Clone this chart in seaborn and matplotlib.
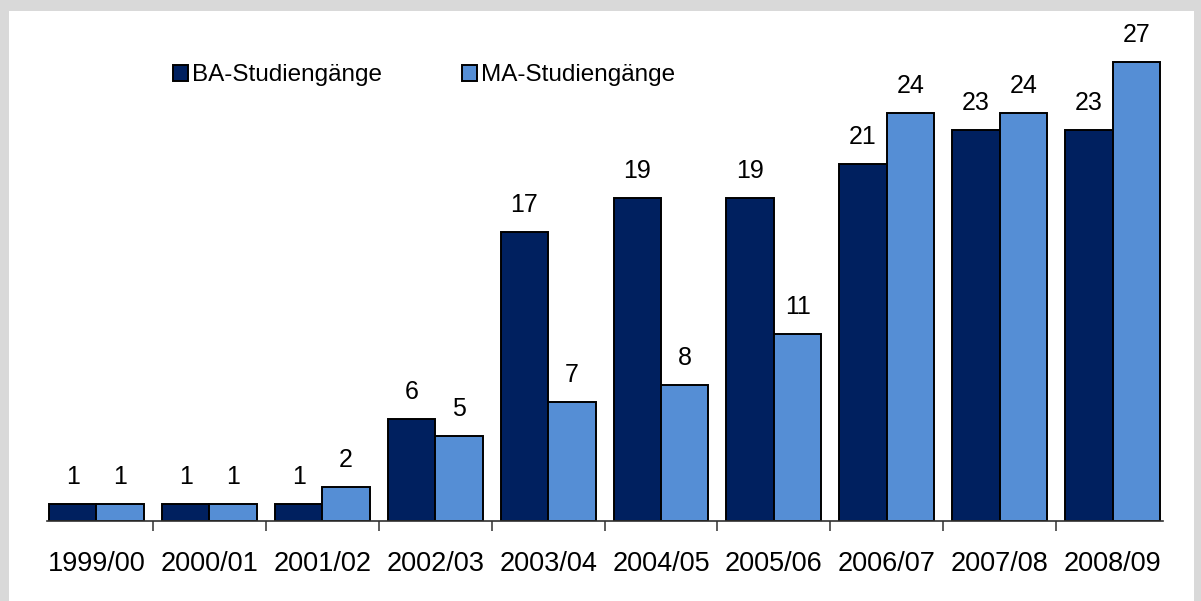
import matplotlib
matplotlib.use("Agg")
import matplotlib.pyplot as plt
import matplotlib.patches as mpatches
import seaborn as sns
import pandas as pd

years = ["1999/00", "2000/01", "2001/02", "2002/03", "2003/04",
         "2004/05", "2005/06", "2006/07", "2007/08", "2008/09"]
ba_values = [1, 1, 1, 6, 17, 19, 19, 21, 23, 23]
ma_values = [1, 1, 2, 5, 7, 8, 11, 24, 24, 27]
series_names = ["BA-Studiengänge", "MA-Studiengänge"]
colors = ["#00205F", "#558ED5"]

df = pd.DataFrame({
    "year": years * 2,
    "value": ba_values + ma_values,
    "type": [series_names[0]] * len(years) + [series_names[1]] * len(years),
})

sns.set_theme(style="white")
plt.rcParams["font.family"] = ["Liberation Sans", "DejaVu Sans"]
plt.rcParams["text.color"] = "black"

W, H = 1201, 601
fig = plt.figure(figsize=(W / 100, H / 100), dpi=100)
fig.patch.set_facecolor("#D9D9D9")
bg = mpatches.Rectangle((9 / W, 0), (1194 - 9) / W, (H - 11) / H,
                        transform=fig.transFigure, facecolor="white",
                        edgecolor="none", zorder=-10)
fig.add_artist(bg)

ax = fig.add_axes([47 / W, 80 / H, (1163 - 47) / W, (521 - 11) / H])
ax.set_facecolor("none")
ax.set_zorder(5)

sns.barplot(data=df, x="year", y="value", hue="type", palette=colors,
            width=0.84, edgecolor="black", linewidth=1.4, ax=ax,
            saturation=1, errorbar=None)

for cont in ax.containers:
    ax.bar_label(cont, padding=11, fontsize=18, color="black")

ax.set_xlim(-0.438, 9.446)
ax.set_ylim(0, 30)
ax.set_xlabel("")
ax.set_ylabel("")
ax.set_yticks([])
for s in ["left", "right", "top"]:
    ax.spines[s].set_visible(False)
ax.spines["bottom"].set_color("#303030")
ax.spines["bottom"].set_linewidth(1.2)

ax.set_xticks(range(len(years)))
ax.set_xticklabels(years, fontsize=19.5, color="black")
ax.set_xticks([i + 0.5 for i in range(len(years) - 1)], minor=True)
ax.tick_params(axis="x", which="major", length=0, pad=21.5)
ax.tick_params(axis="x", which="minor", length=7, width=1.1, color="#303030",
               direction="out", bottom=True)

handles, labels = ax.get_legend_handles_labels()
ax.legend(handles, labels, loc="center left", bbox_to_anchor=(173 / W, 1 - 75.5 / H),
          bbox_transform=fig.transFigure, ncol=2, frameon=False, fontsize=17.5,
          labelcolor="black",
          handlelength=0.62, handleheight=0.62, handletextpad=0.15,
          columnspacing=3.3, borderaxespad=0, borderpad=0)

fig.savefig("out.png", dpi=100, facecolor=fig.get_facecolor())
